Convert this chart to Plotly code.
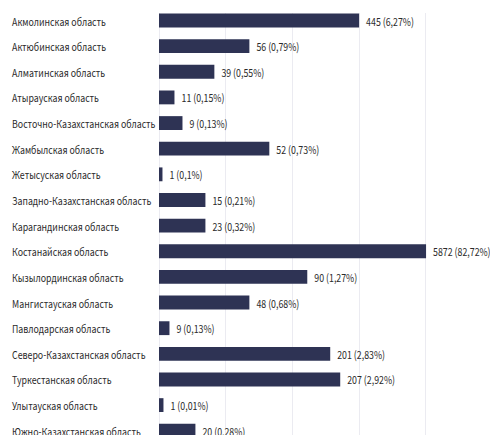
import plotly.graph_objects as go

regions = [
    "Акмолинская область",
    "Актюбинская область",
    "Алматинская область",
    "Атырауская область",
    "Восточно-Казахстанская область",
    "Жамбылская область",
    "Жетысуская область",
    "Западно-Казахстанская область",
    "Карагандинская область",
    "Костанайская область",
    "Кызылординская область",
    "Мангистауская область",
    "Павлодарская область",
    "Северо-Казахстанская область",
    "Туркестанская область",
    "Улытауская область",
    "Южно-Казахстанская область",
]

# drawn bar lengths (in gridline units)
bar_lengths = [3.00, 1.355, 0.83, 0.232, 0.352, 1.654, 0.052, 0.696, 0.696,
               4.004, 2.223, 1.355, 0.157, 2.567, 2.717, 0.067, 0.546]

counts = [445, 56, 39, 11, 9, 52, 1, 15, 23, 5872, 90, 48, 9, 201, 207, 1, 20]
shares = ["6,27%", "0,79%", "0,55%", "0,15%", "0,13%", "0,73%", "0,1%", "0,21%",
          "0,32%", "82,72%", "1,27%", "0,68%", "0,13%", "2,83%", "2,92%", "0,01%", "0,28%"]

value_labels = [f"{c} ({s})" for c, s in zip(counts, shares)]

FONT = "Noto Sans CJK SC, Roboto, sans-serif"
BAR = "#2e3354"
TXT = "#2a2a2a"

W, H = 490, 435
L, R, T, B = 158.5, 0, 13, 0
idx = list(range(len(regions)))

fig = go.Figure(go.Bar(
    y=idx,
    x=bar_lengths,
    orientation="h",
    marker=dict(color=BAR, line=dict(width=0)),
    text=value_labels,
    textposition="outside",
    constraintext="none",
    cliponaxis=False,
    textfont=dict(family=FONT, size=11, color=TXT),
    width=0.54,
    hoverinfo="skip",
))

plot_w = W - L - R
for i, name in enumerate(regions):
    fig.add_annotation(
        x=(9 - L) / plot_w, xref="paper", xanchor="left",
        y=i, yref="y", yanchor="middle",
        text=name, showarrow=False,
        font=dict(family=FONT, size=11, color=TXT),
    )

row = 25.64
top_val = (T - 20.5) / row
bot_val = (H - 20.5) / row

fig.update_layout(
    width=W, height=H,
    margin=dict(l=L, r=R, t=T, b=B, pad=0),
    paper_bgcolor="white", plot_bgcolor="white",
    showlegend=False,
    xaxis=dict(range=[0, plot_w / 66.8], dtick=1, showgrid=True,
               gridcolor="#ebebf1", gridwidth=1, zeroline=True,
               zerolinecolor="#ebebf1", zerolinewidth=1,
               showticklabels=False, ticks="", showline=False, fixedrange=True),
    yaxis=dict(range=[bot_val, top_val], showticklabels=False, showgrid=False,
               zeroline=False, ticks="", showline=False, fixedrange=True),
)

# narrow the text horizontally (the reference uses a condensed typeface)
post = """
document.body.style.margin='0';
document.querySelectorAll('.annotation-text, .bartext').forEach(function(t){
  var b = t.getBBox();
  var x0 = b.x;
  var dx = t.classList.contains('bartext') ? 4 : 0;
  var prev = t.getAttribute('transform') || '';
  t.setAttribute('transform', prev + ' translate(' + (x0 + dx) + ',0) scale(0.8,1) translate(' + (-x0) + ',0)');
});
"""

fig.write_html("out.html", post_script=post, config={"displayModeBar": False})
